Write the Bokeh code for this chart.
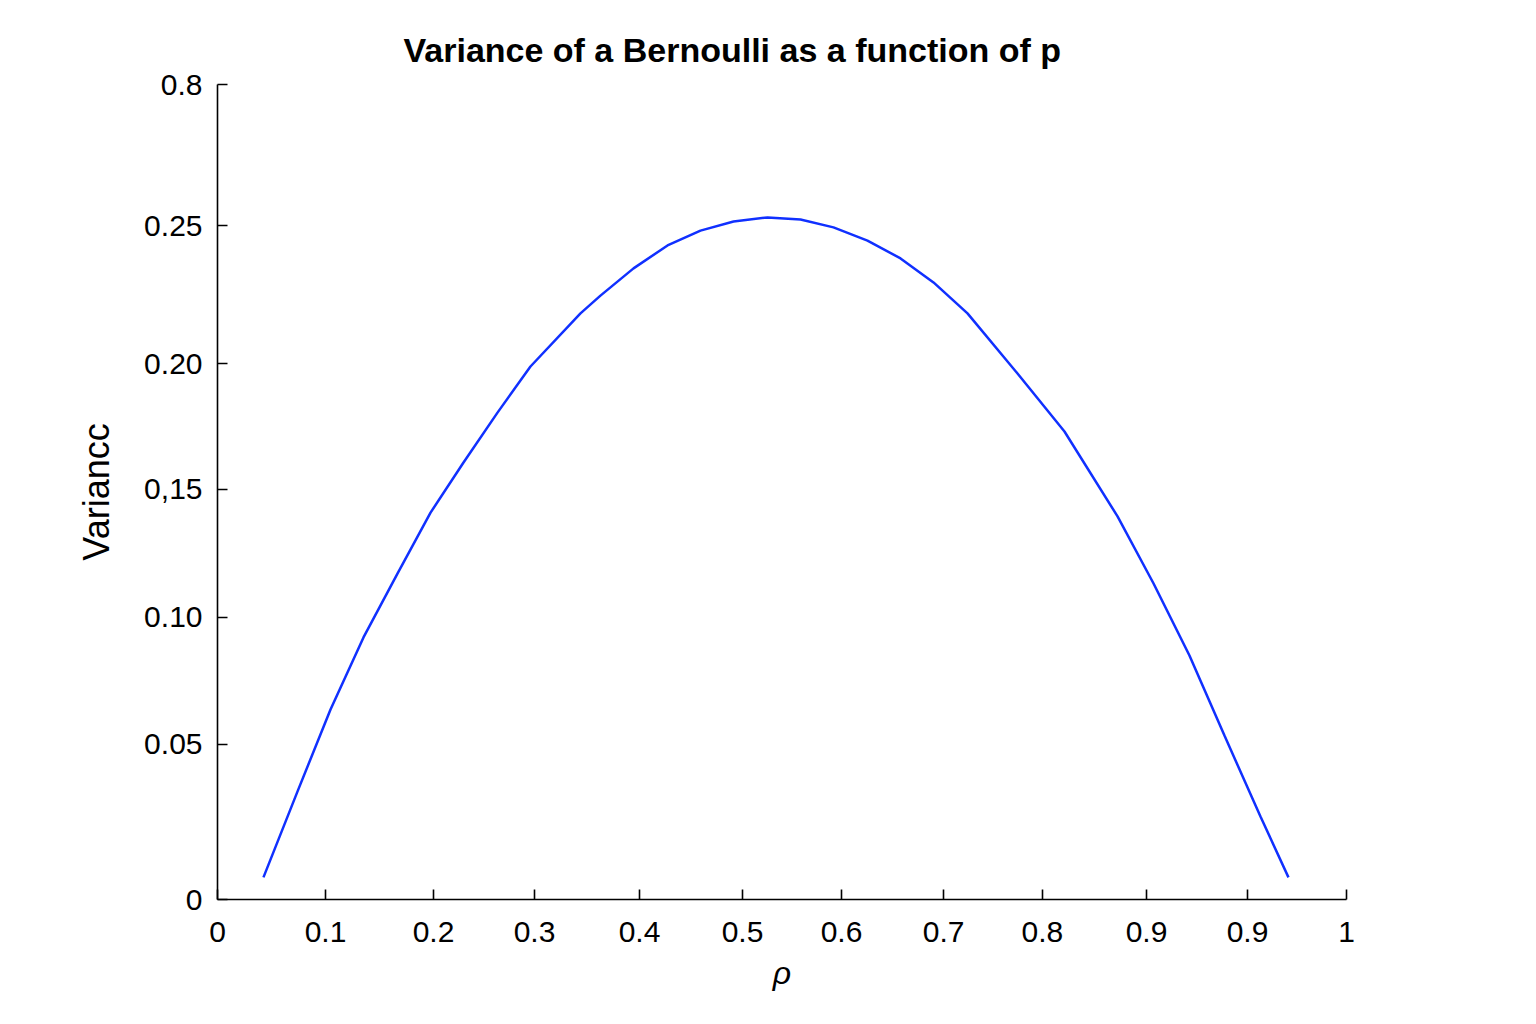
from bokeh.embed import file_html
from bokeh.models import FixedTicker, Range1d
from bokeh.plotting import figure
from bokeh.resources import INLINE

# Values, in the linear units of its plot frame
# (the drawn axis is not evenly spaced, so ticks carry their own labels).
p_values = [0.0407, 0.0709, 0.1001, 0.1293, 0.1594, 0.1887, 0.2179, 0.2480, 0.2772, 0.3215,
            0.3392, 0.3685, 0.3986, 0.4278, 0.4571, 0.4872, 0.5164, 0.5456, 0.5757, 0.6050,
            0.6342, 0.6643, 0.7086, 0.7502, 0.7972, 0.8291, 0.8609, 0.8919, 0.9238, 0.9486]
variance = [0.0082, 0.0401, 0.0705, 0.0972, 0.1209, 0.1435, 0.1621, 0.1806, 0.1977, 0.2174,
            0.2240, 0.2341, 0.2426, 0.2481, 0.2515, 0.2530, 0.2522, 0.2493, 0.2444, 0.2378,
            0.2289, 0.2174, 0.1951, 0.1736, 0.1421, 0.1172, 0.0905, 0.0608, 0.0308, 0.0082]

x_ticks = [0, 0.0957, 0.1913, 0.2808, 0.3738, 0.4650, 0.5527, 0.6431, 0.7307, 0.8229, 0.9123, 1.0]
x_tick_labels = ["0", "0.1", "0.2", "0.3", "0.4", "0.5", "0.6", "0.7", "0.8", "0.9", "0.9", "1"]

y_ticks = [0, 0.0575, 0.1046, 0.1521, 0.1988, 0.25, 0.3023]
y_tick_labels = ["0", "0.05", "0.10", "0,15", "0.20", "0.25", "0.8"]

FONT = "Liberation Sans"

p = figure(frame_width=1129, frame_height=815, min_border_left=217, min_border_right=170,
           min_border_top=84, min_border_bottom=110, x_range=Range1d(0, 1), y_range=Range1d(0, 0.3023),
           title="Variance of a Bernoulli as a function of p", x_axis_label="ρ", y_axis_label="Variancc",
           toolbar_location=None, tools="", output_backend="svg")

p.title.text_font = FONT
p.title.text_font_size = "34px"
p.title.text_font_style = "bold"
p.title.text_color = "black"
p.title.align = "left"
p.title.offset = 186
p.title.standoff = 31

p.line(p_values, variance, line_color="#1030ff", line_width=2.5)

p.outline_line_color = None
p.xgrid.grid_line_color = None
p.ygrid.grid_line_color = None

p.xaxis.ticker = FixedTicker(ticks=x_ticks)
p.xaxis.major_label_overrides = dict(zip(x_ticks, x_tick_labels))
p.yaxis.ticker = FixedTicker(ticks=y_ticks)
p.yaxis.major_label_overrides = dict(zip(y_ticks, y_tick_labels))

for ax in (p.xaxis, p.yaxis):
    ax.axis_line_color = "black"
    ax.axis_line_width = 1.6
    ax.major_tick_line_color = "black"
    ax.major_tick_line_width = 1.6
    ax.major_tick_in = 10
    ax.major_tick_out = 0
    ax.minor_tick_line_color = None
    ax.major_label_text_font = FONT
    ax.major_label_text_font_size = "30px"
    ax.major_label_text_color = "black"
    ax.axis_label_text_font = FONT
    ax.axis_label_text_color = "black"

p.xaxis.major_label_standoff = 22
p.yaxis.major_label_standoff = 15
p.xaxis.axis_label_text_font_size = "32px"
p.xaxis.axis_label_text_font_style = "italic"
p.xaxis.axis_label_standoff = 10
p.yaxis.axis_label_text_font_size = "36px"
p.yaxis.axis_label_text_font_style = "normal"
p.yaxis.axis_label_standoff = 24

open("out.html", "w").write(file_html(p, INLINE))
